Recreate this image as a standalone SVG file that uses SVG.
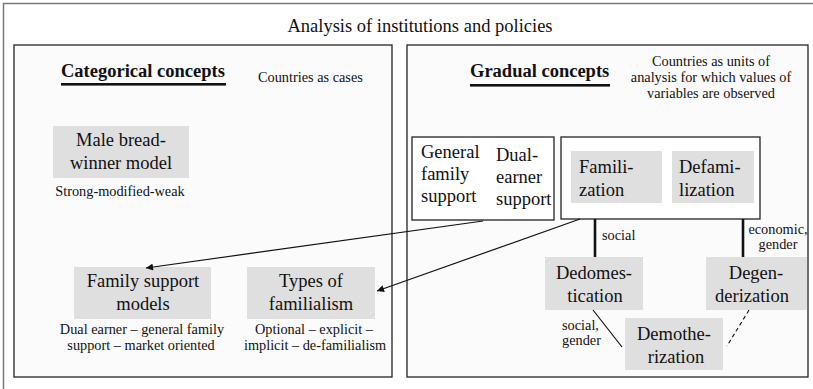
<svg xmlns="http://www.w3.org/2000/svg" width="813" height="389" viewBox="0 0 813 389">
<defs>
<style>
text{font-family:"Liberation Serif","Times New Roman",serif;fill:#111}
.big{font-size:18.5px}
.sm{font-size:14.3px}
.hd{font-size:18.5px;font-weight:bold}
.mid{text-anchor:middle}
.panel{fill:#fbfbfb;stroke:#222;stroke-width:1.3}
.wbox{fill:#fff;stroke:#222;stroke-width:1.3}
.gbox{fill:#dfdfdf;stroke:none}
.conn{stroke:#111;fill:none}
</style>
<marker id="arr" viewBox="0 0 10 10" refX="10" refY="5" markerWidth="9" markerHeight="7" markerUnits="userSpaceOnUse" orient="auto">
<path d="M0,0 L10,5 L0,10 z" fill="#111"/>
</marker>
</defs>
<rect x="0" y="0" width="813" height="389" fill="#fff"/>
<rect x="3.5" y="3.5" width="830" height="400" fill="#fff" stroke="#777" stroke-width="1.5"/>
<text class="big" x="420" y="32" text-anchor="middle">Analysis of institutions and policies</text>

<g id="panel-categorical">
<rect class="panel" x="14" y="45" width="378" height="332"/>
<text class="hd" x="61" y="77">Categorical concepts</text>
<rect x="61" y="83" width="165" height="2.6" fill="#111"/>
<text class="sm" x="258" y="82">Countries as cases</text>
</g>

<g id="panel-gradual">
<rect class="panel" x="407" y="45" width="401" height="332"/>
<text class="hd" x="470" y="77">Gradual concepts</text>
<rect x="470" y="84" width="140" height="2.6" fill="#111"/>
<text class="sm mid" x="711" y="66">Countries as units of</text>
<text class="sm mid" x="711" y="82">analysis for which values of</text>
<text class="sm mid" x="711" y="98">variables are observed</text>
</g>

<g id="male-breadwinner">
<rect class="gbox" x="53" y="126" width="136" height="52"/>
<text class="big mid" x="121" y="146">Male bread-</text>
<text class="big mid" x="121" y="169">winner model</text>
<text class="sm mid" x="120" y="196">Strong-modified-weak</text>
</g>

<g id="family-support-models">
<rect class="gbox" x="74" y="267" width="137" height="52"/>
<text class="big mid" x="143" y="287">Family support</text>
<text class="big mid" x="143" y="310">models</text>
<text class="sm mid" x="142" y="334">Dual earner – general family</text>
<text class="sm mid" x="141" y="350">support – market oriented</text>
</g>

<g id="types-of-familialism">
<rect class="gbox" x="247" y="267" width="128" height="52"/>
<text class="big mid" x="311" y="287">Types of</text>
<text class="big mid" x="311" y="310">familialism</text>
<text class="sm mid" x="314" y="334">Optional – explicit –</text>
<text class="sm mid" x="315" y="350">implicit – de-familialism</text>
</g>

<g id="support-types">
<rect class="wbox" x="412" y="137" width="142" height="83"/>
<text class="big" x="421" y="158">General</text>
<text class="big" x="421" y="180">family</text>
<text class="big" x="421" y="202">support</text>
<text class="big" x="496" y="161">Dual-</text>
<text class="big" x="496" y="183">earner</text>
<text class="big" x="496" y="205">support</text>
</g>

<g id="familization-group">
<rect class="wbox" x="561" y="137" width="199" height="82"/>
<g id="familization">
<rect class="gbox" x="571" y="151" width="91" height="52"/>
<text class="big" x="579" y="173">Famili-</text>
<text class="big" x="579" y="196">zation</text>
</g>
<g id="defamilization">
<rect class="gbox" x="672" y="151" width="82" height="52"/>
<text class="big" x="679" y="173">Defami-</text>
<text class="big" x="679" y="196">lization</text>
</g>
</g>

<g id="dedomestication">
<rect class="gbox" x="545" y="257" width="98" height="53"/>
<text class="big mid" x="594" y="279">Dedomes-</text>
<text class="big mid" x="595" y="302">tication</text>
</g>

<g id="degenderization">
<rect class="gbox" x="706" y="257" width="101" height="53"/>
<text class="big mid" x="756" y="279">Degen-</text>
<text class="big mid" x="752" y="302">derization</text>
</g>

<g id="demotherization">
<rect class="gbox" x="625" y="318" width="98" height="52"/>
<text class="big mid" x="674" y="340">Demothe-</text>
<text class="big mid" x="676" y="363">rization</text>
</g>

<g id="connectors">
<line class="conn" x1="483" y1="221" x2="146" y2="268" stroke-width="1.2" marker-end="url(#arr)"/>
<line class="conn" x1="580" y1="219" x2="377" y2="291" stroke-width="1.2" marker-end="url(#arr)"/>
<line class="conn" x1="595" y1="219" x2="595" y2="257" stroke-width="2.6"/>
<line class="conn" x1="743" y1="219" x2="743" y2="257" stroke-width="2.6"/>
<line class="conn" x1="593" y1="310" x2="622" y2="347" stroke-width="1.2"/>
<line class="conn" x1="749" y1="310" x2="727" y2="346" stroke-width="1.1" stroke-dasharray="4,3"/>
<text class="sm" x="602" y="240">social</text>
<text class="sm mid" x="778" y="234">economic,</text>
<text class="sm mid" x="778" y="249">gender</text>
<text class="sm" x="562" y="330">social,</text>
<text class="sm" x="562" y="345">gender</text>
</g>
</svg>
